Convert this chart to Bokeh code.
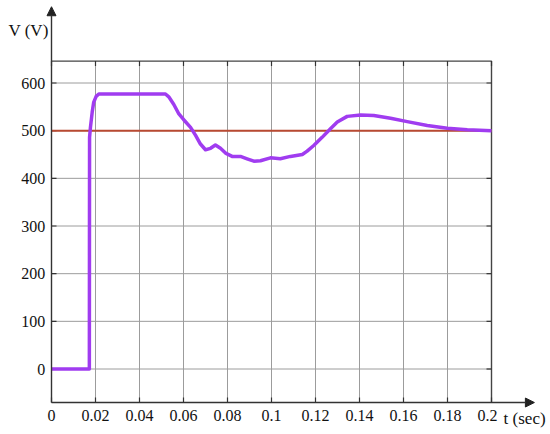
import math
from bokeh.plotting import figure
from bokeh.models import Range1d, Arrow, NormalHead
from bokeh.core.properties import value
from bokeh.embed import file_html
from bokeh.resources import INLINE

# ---- data ----
t_sec = [0.0, 0.0172, 0.0173, 0.0177, 0.0185, 0.0192, 0.0203, 0.0215, 0.030, 0.040,
         0.0518, 0.0533, 0.0556, 0.0579, 0.0601, 0.0632, 0.0655, 0.0677, 0.0700, 0.0723,
         0.0745, 0.0768, 0.0791, 0.0821, 0.0859, 0.0889, 0.0920, 0.0950, 0.0995, 0.1040,
         0.1086, 0.1140, 0.1162, 0.1192, 0.1230, 0.1268, 0.1299, 0.1344, 0.1405, 0.1465,
         0.1541, 0.1617, 0.1708, 0.1799, 0.1890, 0.2000]
v_out = [0, 0, 486, 507, 539, 560, 572, 577, 577, 577,
         577, 571, 555, 535, 523, 507, 490, 472, 460, 463,
         470, 463, 453, 446, 446, 441, 436, 437, 443, 441,
         446, 450, 457, 469, 486, 504, 518, 530, 533, 532,
         526, 519, 511, 505, 502, 500]
v_ref = 500

x_ticks = [0, 0.02, 0.04, 0.06, 0.08, 0.1, 0.12, 0.14, 0.16, 0.18, 0.2]
x_tick_labels = ["0", "0.02", "0.04", "0.06", "0.08", "0.1", "0.12", "0.14", "0.16", "0.18", "0.2"]
y_ticks = [0, 100, 200, 300, 400, 500, 600]
y_tick_labels = ["0", "100", "200", "300", "400", "500", "600"]
x_title = "t (sec)"
y_title = "V (V)"

# ---- layout constants (data units of the frame) ----
T_MIN, T_MAX = 0.0, 0.2
V_MIN, V_TOP = -70.3, 646
X_RANGE = (-0.023182, 0.226818)
Y_RANGE = (-137.4, 773.1)

FONT = "'Liberation Serif', 'Times New Roman', 'DejaVu Serif', serif"
AXIS = "#333333"
GRID = "#9c9c9c"

p = figure(width=550, height=434, output_backend="svg", toolbar_location=None,
           x_range=Range1d(*X_RANGE), y_range=Range1d(*Y_RANGE),
           min_border=0)
p.outline_line_color = None
p.axis.visible = False
p.xgrid.visible = False
p.ygrid.visible = False
p.background_fill_color = "white"

# grid lines
gx = [tk for tk in x_ticks if T_MIN < tk < T_MAX]
p.segment(x0=gx, y0=[V_MIN] * len(gx), x1=gx, y1=[V_TOP] * len(gx),
          line_color=GRID, line_width=1)
p.segment(x0=[T_MIN] * len(y_ticks), y0=y_ticks, x1=[T_MAX] * len(y_ticks), y1=y_ticks,
          line_color=GRID, line_width=1)

# box (top, right)
p.line([T_MIN, T_MAX, T_MAX], [V_TOP, V_TOP, V_MIN], line_color="#444444", line_width=1.4)

# inside ticks on all four sides
tick_kw = dict(length=5, length_units="screen", line_color=AXIS, line_width=1.2)
p.ray(x=x_ticks, y=[V_MIN] * len(x_ticks), angle=math.pi / 2, **tick_kw)
p.ray(x=x_ticks, y=[V_TOP] * len(x_ticks), angle=-math.pi / 2, **tick_kw)
p.ray(x=[T_MIN] * len(y_ticks), y=y_ticks, angle=0, **tick_kw)
p.ray(x=[T_MAX] * len(y_ticks), y=y_ticks, angle=math.pi, **tick_kw)

# reference & response
p.line([T_MIN, T_MAX], [v_ref, v_ref], line_color="#b84a32", line_width=2)
p.line(t_sec, v_out, line_color="#a03cf0", line_width=3.5, line_join="round")

# axis lines with arrow heads
p.add_layout(Arrow(end=NormalHead(size=9, fill_color="#222222", line_color="#222222"),
                   x_start=T_MIN, y_start=V_MIN, x_end=0.2195, y_end=V_MIN,
                   line_color=AXIS, line_width=1.4))
p.add_layout(Arrow(end=NormalHead(size=9, fill_color="#222222", line_color="#222222"),
                   x_start=T_MIN, y_start=V_MIN, x_end=T_MIN, y_end=760,
                   line_color=AXIS, line_width=1.4))

# tick labels (last one nudged left, as in the reference, to clear the axis title)
txt = dict(text_font=value(FONT), text_font_size="16px", text_color="#111111")
x_label_offsets = [0] * (len(x_ticks) - 1) + [-4]
p.text(x=x_ticks, y=[-97.6] * len(x_ticks), text=x_tick_labels, x_offset=x_label_offsets,
       text_align="center", text_baseline="middle", **txt)
p.text(x=[-0.0028] * len(y_ticks), y=y_ticks, text=y_tick_labels,
       text_align="right", text_baseline="middle", **txt)

# axis titles
p.text(x=[-0.01955], y=[710], text=[y_title], text_align="left", text_baseline="middle",
       text_font=value(FONT), text_font_size="17px", text_color="#111111")
p.text(x=[0.2055], y=[-103.8], text=[x_title], text_align="left", text_baseline="middle",
       text_font=value(FONT), text_font_size="17px", text_color="#111111")

open("out.html", "w").write(file_html(p, INLINE))
